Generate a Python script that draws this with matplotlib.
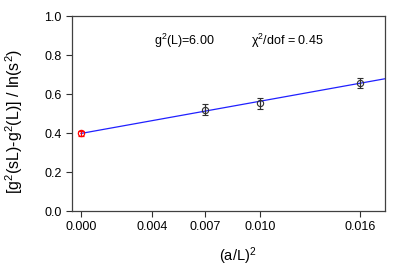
import matplotlib
matplotlib.use("Agg")
import matplotlib.pyplot as plt
import numpy as np

plt.rcParams['font.family'] = ['Liberation Sans', 'DejaVu Sans']
plt.rcParams['mathtext.fontset'] = 'custom'
plt.rcParams['mathtext.rm'] = 'Liberation Sans'
plt.rcParams['mathtext.it'] = 'Liberation Sans:italic'

# data
x_data = [1/144, 1/100, 1/64]
y_data = [0.520, 0.552, 0.657]
y_err = [0.027, 0.027, 0.024]
x_extrap = [0.0]
y_extrap = [0.398]
y_extrap_err = [0.015]
fit_intercept = 0.398
fit_slope = 16.5
x_ticks = [0.0, 0.004, 1/144, 1/100, 1/64]
x_ticklabels = ['0.000', '0.004', '0.007', '0.010', '0.016']
y_ticks = [0.0, 0.2, 0.4, 0.6, 0.8, 1.0]

fig = plt.figure(figsize=(4.09, 2.73), dpi=100)
ax = fig.add_axes([0.176, 0.227, 0.765, 0.714])

xmin, xmax = -0.0005, 0.0170
xf = np.array([0.0, xmax])
ax.plot(xf, fit_intercept + fit_slope * xf, color='#2020ff', lw=0.9, zorder=2)

ax.errorbar(x_data, y_data, yerr=y_err, fmt='o', ms=4.5, mfc='none',
            mec='#303030', mew=0.8, ecolor='#303030', elinewidth=0.9,
            capsize=2.5, capthick=0.9, zorder=3)
ax.errorbar(x_extrap, y_extrap, yerr=y_extrap_err, fmt='o', ms=4.5, mfc='none',
            mec='red', mew=0.9, ecolor='red', elinewidth=0.9,
            capsize=2.5, capthick=0.9, zorder=3)

ax.set_xlim(xmin, xmax)
ax.set_ylim(0.0, 1.0)
ax.set_xticks(x_ticks)
ax.set_xticklabels(x_ticklabels)
ax.set_yticks(y_ticks)
ax.set_yticklabels([f'{v:.1f}' for v in y_ticks])
ax.tick_params(direction='out', length=4, width=0.8, labelsize=9, colors='#303030',
               labelcolor='black')
for s in ax.spines.values():
    s.set_color('#404040')
    s.set_linewidth(0.9)

ax.set_xlabel(r'(a/L)$^2$', fontsize=10.5)
ax.set_ylabel(r'[g$^2$(sL)-g$^2$(L)] / ln(s$^2$)', fontsize=11.5)
ax.xaxis.set_label_coords(0.53, -0.175)
ax.yaxis.set_label_coords(-0.15, 0.46)

ax.text(0.0041, 0.872, r'g$^2$(L)=6.00', fontsize=9, va='center', ha='left')
ax.text(0.0095, 0.872, r'χ$^2$/dof = 0.45', fontsize=9, va='center', ha='left')

fig.savefig('out.png', dpi=100)
